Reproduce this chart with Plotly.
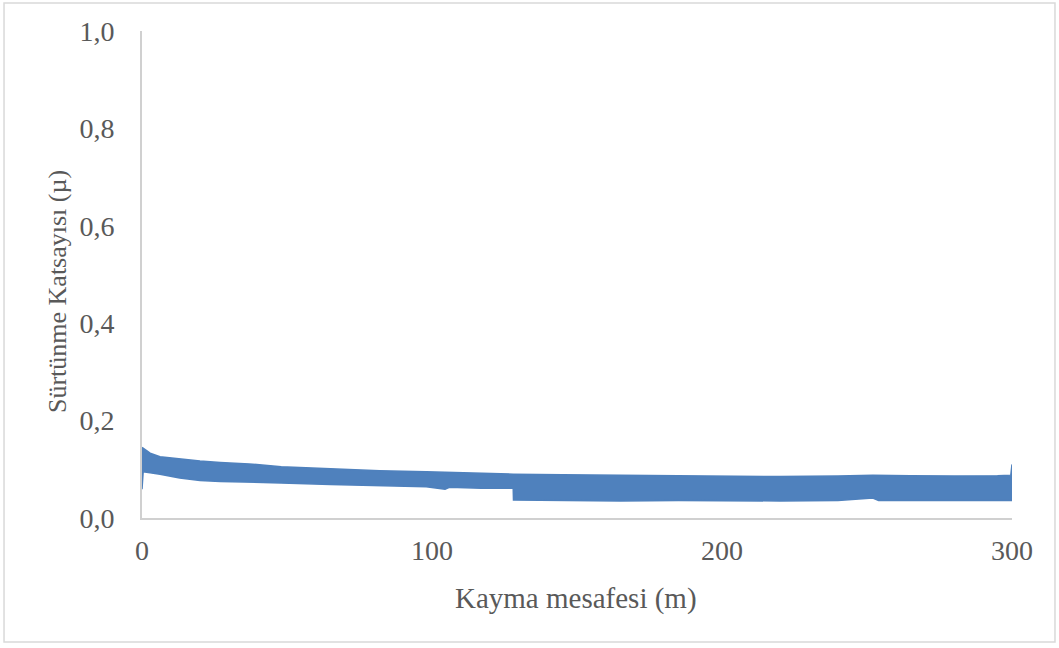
import plotly.graph_objects as go

# Upper envelope of the friction-coefficient band
upper_dist = [0, 1, 2.8, 6.2, 13, 20, 27, 37, 48, 65, 82, 98, 117, 128,
              145, 165, 185, 200, 220, 240, 252, 265, 280, 295, 299.6, 300]
upper_mu = [0.145, 0.140, 0.133, 0.126, 0.121, 0.117, 0.114, 0.111, 0.105,
            0.101, 0.097, 0.095, 0.092, 0.090, 0.089, 0.088, 0.086, 0.085,
            0.085, 0.086, 0.088, 0.087, 0.086, 0.087, 0.088, 0.110]

# Lower envelope of the band
lower_dist = [0, 0.4, 2.8, 6.2, 13, 20, 27, 37, 48, 65, 82, 98, 104.5, 106,
              117, 128, 128.1, 145, 165, 185, 200, 220, 240, 252, 254, 270,
              290, 300]
lower_mu = [0.059, 0.095, 0.093, 0.090, 0.082, 0.077, 0.075, 0.073, 0.072,
            0.069, 0.066, 0.064, 0.059, 0.063, 0.061, 0.061, 0.037, 0.036,
            0.035, 0.036, 0.035, 0.035, 0.036, 0.041, 0.036, 0.036, 0.035,
            0.036]

x_ticks = [0, 100, 200, 300]
y_ticks = [0.0, 0.2, 0.4, 0.6, 0.8, 1.0]
x_title = "Kayma mesafesi (m)"
y_title = "Sürtünme Katsayısı (µ)"

BLUE = "#4f81bd"
FONT = "Liberation Serif, Times New Roman, serif"
TXT = "#595959"
FS = 28

fig = go.Figure()
fig.add_trace(go.Scatter(x=lower_dist, y=lower_mu, mode="lines",
                         line=dict(color=BLUE, width=1.5), showlegend=False,
                         hoverinfo="skip"))
fig.add_trace(go.Scatter(x=upper_dist, y=upper_mu, mode="lines",
                         line=dict(color=BLUE, width=1.5), fill="tonexty",
                         fillcolor=BLUE, showlegend=False, hoverinfo="skip"))

fig.update_layout(
    width=1059, height=648,
    margin=dict(l=142, r=47, t=31, b=130),
    paper_bgcolor="white", plot_bgcolor="white",
    separators=", ",
    font=dict(family=FONT, size=FS, color=TXT),
    xaxis=dict(range=[0, 300], tickvals=x_ticks, showgrid=False,
               zeroline=False, showline=True, linecolor="#d0d0d0",
               linewidth=2, ticks="outside", ticklen=6,
               tickcolor="rgba(0,0,0,0)",
               tickfont=dict(family=FONT, size=FS, color=TXT)),
    yaxis=dict(range=[0, 1], tickvals=y_ticks, tickformat=".1f",
               showgrid=False, zeroline=False, showline=True,
               linecolor="#d0d0d0", linewidth=2, ticks="outside",
               ticklen=20, tickcolor="rgba(0,0,0,0)",
               tickfont=dict(family=FONT, size=FS, color=TXT)),
    annotations=[
        dict(text=x_title, xref="paper", yref="paper", x=0.4989, y=-0.1643,
             xanchor="center", yanchor="middle", showarrow=False,
             font=dict(family=FONT, size=29, color=TXT)),
        dict(text=y_title, xref="paper", yref="paper", x=-0.0977, y=0.464,
             xanchor="center", yanchor="middle", showarrow=False,
             textangle=-90, font=dict(family=FONT, size=26, color=TXT)),
    ],
    shapes=[dict(type="rect", xref="paper", yref="paper",
                 x0=-0.1586, x1=1.0494, y0=-0.2546, y1=1.0575,
                 line=dict(color="#d9d9d9", width=1.5), layer="below")],
)

fig.write_html("out.html")
